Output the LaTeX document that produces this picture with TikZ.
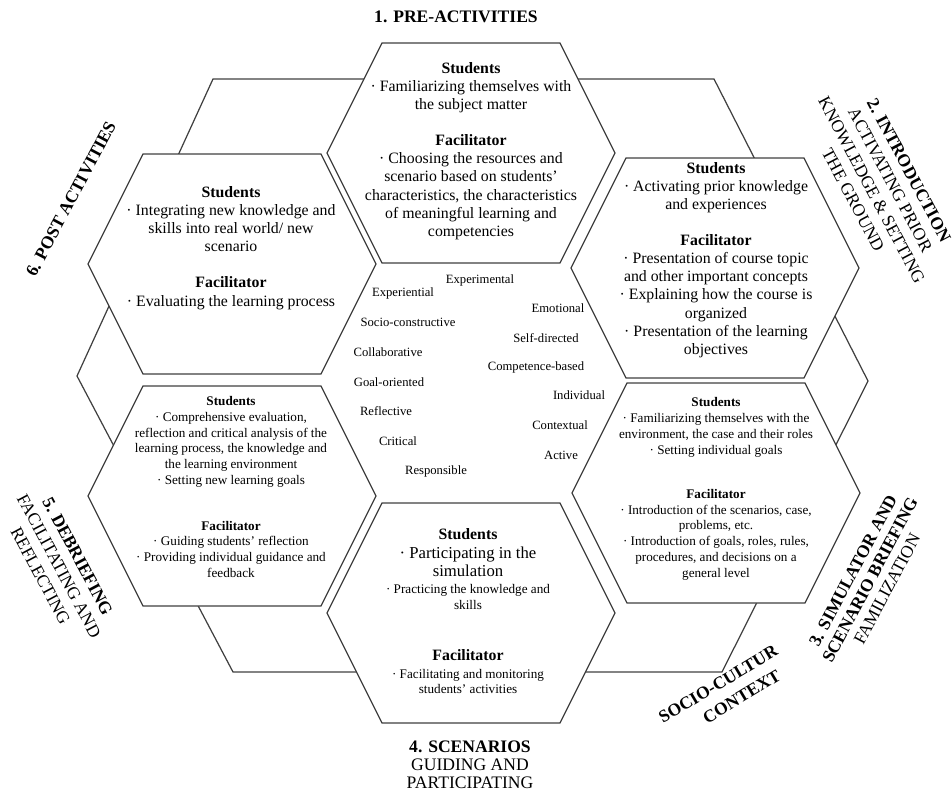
\documentclass[tikz,border=0pt]{standalone}
\usepackage{fontspec}
\setmainfont{Liberation Serif}

\tikzset{
  hexline/.style={draw=black!75, line width=0.7pt, line join=miter},
  hexcell/.pic={\filldraw[hexline, fill=white] (-144,0) -- (-89,-110) -- (89,-110) -- (144,0) -- (89,110) -- (-89,110) -- cycle;},
  bigtxt/.style={align=center, inner sep=0pt, font=\fontsize{9}{10.3}\selectfont},
  smalltxt/.style={align=center, inner sep=0pt, font=\fontsize{7.5}{9}\selectfont},
  word/.style={inner sep=0pt, text height=5pt, text depth=1.5pt, font=\fontsize{7.2}{8}\selectfont},
  phase/.style={align=center, inner sep=1pt, font=\fontsize{10}{12}\selectfont},
}

\begin{document}
\begin{tikzpicture}[x=0.02cm, y=-0.02cm]
\useasboundingbox (0,0) rectangle (952,794);
% outer frame
\draw[hexline] (213,79) -- (714,79) -- (868,381) -- (722,672) -- (233,672) -- (77,376) -- cycle;
% the six phases
\foreach \cx/\cy in {471/153, 715/268, 716/493, 471/613, 232/496, 232/264}
  \pic at (\cx,\cy) {hexcell};

\node[bigtxt] (pre) at (471,151) {\textbf{Students}\\ · Familiarizing themselves with\\ the subject matter\\[10.3pt] \textbf{Facilitator}\\ · Choosing the resources and\\ scenario based on students’\\ characteristics, the characteristics\\ of meaningful learning and\\ competencies};
\node[bigtxt] (intro) at (716,260) {\textbf{Students}\\ · Activating prior knowledge\\ and experiences\\[10.3pt] \textbf{Facilitator}\\ · Presentation of course topic\\ and other important concepts\\ · Explaining how the course is\\ organized\\ · Presentation of the learning\\ objectives};
\node[smalltxt] (brief) at (716,489) {\textbf{Students}\\ · Familiarizing themselves with the\\ environment, the case and their roles\\ · Setting individual goals\\[16pt] \textbf{Facilitator}\\ · Introduction of the scenarios, case,\\ problems, etc.\\ · Introduction of goals, roles, rules,\\ procedures, and decisions on a\\ general level};
\node[smalltxt] (scen) at (468,611) {{\fontsize{9}{9}\selectfont\bfseries Students}\\[1.8pt] {\fontsize{9.5}{9}\selectfont · Participating in the}\\[1.2pt] {\fontsize{9.5}{9}\selectfont simulation}\\[0.6pt] · Practicing the knowledge and\\ skills\\[20pt] {\fontsize{9}{9}\selectfont\bfseries Facilitator}\\[1.2pt] · Facilitating and monitoring\\[-0.5pt] students’ activities};
\node[smalltxt] (debr) at (231,487) {\textbf{Students}\\ · Comprehensive evaluation,\\ reflection and critical analysis of the\\ learning process, the knowledge and\\ the learning environment\\ · Setting new learning goals\\[17pt] \textbf{Facilitator}\\ · Guiding students’ reflection\\ · Providing individual guidance and\\ feedback};
\node[bigtxt] (post) at (231,248) {\textbf{Students}\\ · Integrating new knowledge and\\ skills into real world/ new\\ scenario\\[10.3pt] \textbf{Facilitator}\\ · Evaluating the learning process};

% learning characteristics in the middle
\foreach \wx/\wy/\wt [count=\i] in {480/280/Experimental, 403/293/Experiential, 558/309/Emotional, 408/323/Socio-constructive, 546/339/Self-directed, 388/353/Collaborative, 536/367/Competence-based, 389/383/Goal-oriented, 579/396/Individual, 386/412/Reflective, 560/426/Contextual, 398/442/Critical, 561/456/Active, 436/471/Responsible}
  \node[word] (w\i) at (\wx,\wy) {\wt};

% phase titles
\node[phase] (lpre) at (456,17) {\textbf{1. PRE-ACTIVITIES}};
\node[phase, rotate=-62] (lintro) at (881,185) {\textbf{2. INTRODUCTION}\\ ACTIVATING PRIOR\\ KNOWLEDGE \& SETTING\\ THE GROUND};
\node[phase, rotate=62, font=\fontsize{10}{11}\selectfont] (lbrief) at (870,580) {\textbf{3. SIMULATOR AND}\\ \textbf{SCENARIO BRIEFING}\\ FAMILIZATION};
\node[phase, font=\fontsize{10}{10.3}\selectfont] (lscen) at (470,765) {\textbf{4. SCENARIOS}\\ GUIDING AND\\ PARTICIPATING};
\node[phase, rotate=-62] (ldebr) at (59,566) {\textbf{5. DEBRIEFING}\\ FACILITATING AND\\ REFLECTING};
\node[phase, rotate=62] (lpost) at (71,199) {\textbf{6. POST ACTIVITIES}};
\node[phase, rotate=31, align=left, font=\fontsize{10}{13}\selectfont\bfseries] (lsocio) at (724,694) {SOCIO-CULTUR\\ \hspace*{21.5pt}CONTEXT};
\end{tikzpicture}
\end{document}
